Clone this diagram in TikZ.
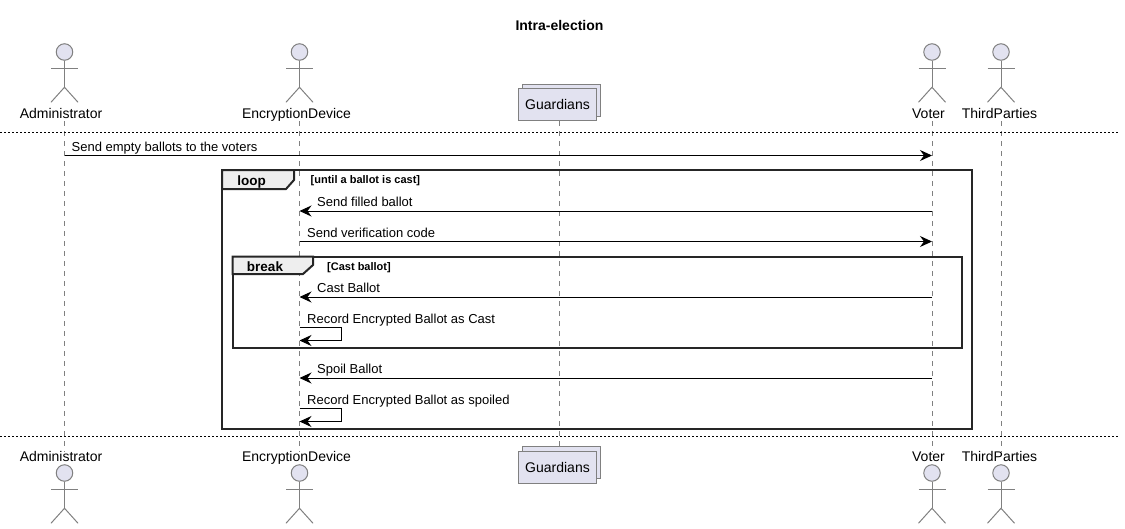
\documentclass[tikz,border=0pt]{standalone}
\usepackage{fontspec}
\setmainfont{Liberation Sans}
\usetikzlibrary{arrows.meta}
\definecolor{partfill}{HTML}{E2E2F0}
\definecolor{partline}{HTML}{808080}
\definecolor{tabfill}{HTML}{EEEEEE}
\tikzset{
  head/.style={circle, draw=partline, fill=partfill, line width=1pt, minimum size=16.5pt, inner sep=0pt},
  limb/.style={draw=partline, line width=1pt},
  partname/.style={inner sep=0pt, text height=10pt, text depth=3pt, font=\fontsize{14pt}{16pt}\selectfont},
  life/.style={draw=partline, line width=0.8pt, dash pattern=on 5pt off 5pt},
  sep/.style={line width=1pt, dash pattern=on 2pt off 2pt},
  msg/.style={line width=1pt, -{Stealth[length=12pt,width=11pt,inset=4pt]}},
  txt/.style={anchor=west, inner sep=0pt, text height=10pt, text depth=3pt, font=\fontsize{13pt}{15pt}\selectfont},
  frm/.style={line width=2pt, draw=black!85},
  cond/.style={anchor=west, inner sep=0pt, text height=8pt, text depth=2.5pt, font=\fontsize{11pt}{13pt}\selectfont\bfseries},
  tabname/.style={inner sep=0pt, text height=10pt, text depth=3pt, font=\fontsize{13.5pt}{15pt}\selectfont\bfseries},
  group/.style={draw=partline, fill=partfill, line width=1.2pt, minimum width=78pt, minimum height=32pt, inner sep=0pt, font=\fontsize{14pt}{16pt}\selectfont}
}
\newcommand{\stick}[1]{
  \draw[limb] (#1.south) -- ++(0,26.5) coordinate (#1hip);
  \draw[limb] ([xshift=-13.5pt,yshift=-8pt]#1.south) -- ++(27,0);
  \draw[limb] ([xshift=-13.5pt,yshift=-15pt]#1hip) -- (#1hip) -- ([xshift=13.5pt,yshift=-15pt]#1hip);
}
\begin{document}
\begin{tikzpicture}[x=1pt, y=-1pt]
\useasboundingbox (0,0) rectangle (1125,528);
\node[inner sep=0pt, font=\fontsize{14pt}{16pt}\selectfont\bfseries] (title) at (559.5,25){Intra-election};
% top row
\node[head] (adm0) at (64.5,52){};
\node[head] (enc0) at (299.5,52){};
\node[head] (vot0) at (932,52){};
\node[head] (thi0) at (1001,52){};
\stick{adm0}
\stick{enc0}
\stick{vot0}
\stick{thi0}
\node[partname] (admt) at (61,114.5){Administrator};
\node[partname] (enct) at (296.5,114.5){EncryptionDevice};
\node[partname] (vott) at (928.5,114.5){Voter};
\node[partname] (thit) at (999.5,114.5){ThirdParties};
\node[group] (gub0) at (561.5,100.5){};
\node[group] (gua0) at (557.5,104.5){Guardians};
% bottom row
\node[partname] (admb) at (61,458){Administrator};
\node[partname] (encb) at (296.5,458){EncryptionDevice};
\node[partname] (votb) at (928.5,458){Voter};
\node[partname] (thib) at (999.5,458){ThirdParties};
\node[head] (adm1) at (64.5,473){};
\node[head] (enc1) at (299.5,473){};
\node[head] (vot1) at (932,473){};
\node[head] (thi1) at (1001,473){};
\stick{adm1}
\stick{enc1}
\stick{vot1}
\stick{thi1}
\node[group] (gub1) at (561.5,462.5){};
\node[group] (gua1) at (557.5,467.5){Guardians};
% lifelines
\coordinate (guax) at (559.5,0);
\draw[life](adm0 |- admt.south) -- (adm0 |- admb.north);
\draw[life](enc0 |- enct.south) -- (enc0 |- encb.north);
\draw[life](guax |- gua0.south) -- (guax |- gub1.north);
\draw[life](vot0 |- vott.south) -- (vot0 |- votb.north);
\draw[life](thi0 |- thit.south) -- (thi0 |- thib.north);
% separators
\coordinate (sepa) at (0,132);
\coordinate (sepb) at (1119,132);
\coordinate (sepc) at (0,436);
\coordinate (sepd) at (1119,436);
\draw[sep](sepa) -- (sepb);
\draw[sep](sepc) -- (sepd);
% frames
\coordinate (loopa) at (222,170);
\coordinate (loopb) at (972,429);
\draw[frm](loopa) rectangle (loopb);
\draw[frm, fill=tabfill](222,170) -- (294,170) -- (294,180) -- (286,189) -- (222,189) -- cycle;
\node[tabname] (loopt) at (251.5,181.5){loop};
\node[cond] (loopc) at (310.5,180.5){[until a ballot is cast]};
\coordinate (brka) at (232.5,256.5);
\coordinate (brkb) at (961.5,348);
\draw[frm](brka) rectangle (brkb);
\draw[frm, fill=tabfill](232.5,256.5) -- (313,256.5) -- (313,265) -- (303,274) -- (232.5,274) -- cycle;
\node[tabname] (brkt) at (265,267.5){break};
\node[cond] (brkc) at (327,267.25){[Cast ballot]};
% messages
\coordinate (m0a) at (adm0 |- 0,155.5);
\coordinate (m0b) at (vot0 |- 0,155.5);
\draw[msg](m0a) -- (m0b);
\node[txt] (m0t) at (71.5,148){Send empty ballots to the voters};
\coordinate (m1a) at (vot0 |- 0,211);
\coordinate (m1b) at (enc0 |- 0,211);
\draw[msg](m1a) -- (m1b);
\node[txt] (m1t) at (317,202.5){Send filled ballot};
\coordinate (m2a) at (enc0 |- 0,241.5);
\coordinate (m2b) at (vot0 |- 0,241.5);
\draw[msg](m2a) -- (m2b);
\node[txt] (m2t) at (307,234){Send verification code};
\coordinate (m3a) at (vot0 |- 0,297);
\coordinate (m3b) at (enc0 |- 0,297);
\draw[msg](m3a) -- (m3b);
\node[txt] (m3t) at (317,289.2){Cast Ballot};
\coordinate (m4a) at (enc0 |- 0,327.5);
\coordinate (m4b) at (341.5,340.5);
\coordinate (m4c) at (enc0 |- 0,340.5);
\draw[msg](m4a) -| (m4b) -- (m4c);
\node[txt] (m4t) at (307,319.8){Record Encrypted Ballot as Cast};
\coordinate (m5a) at (vot0 |- 0,378);
\coordinate (m5b) at (enc0 |- 0,378);
\draw[msg](m5a) -- (m5b);
\node[txt] (m5t) at (317,370.2){Spoil Ballot};
\coordinate (m6a) at (enc0 |- 0,408.5);
\coordinate (m6b) at (341.5,421.5);
\coordinate (m6c) at (enc0 |- 0,421.5);
\draw[msg](m6a) -| (m6b) -- (m6c);
\node[txt] (m6t) at (307,400.8){Record Encrypted Ballot as spoiled};
\end{tikzpicture}
\end{document}
